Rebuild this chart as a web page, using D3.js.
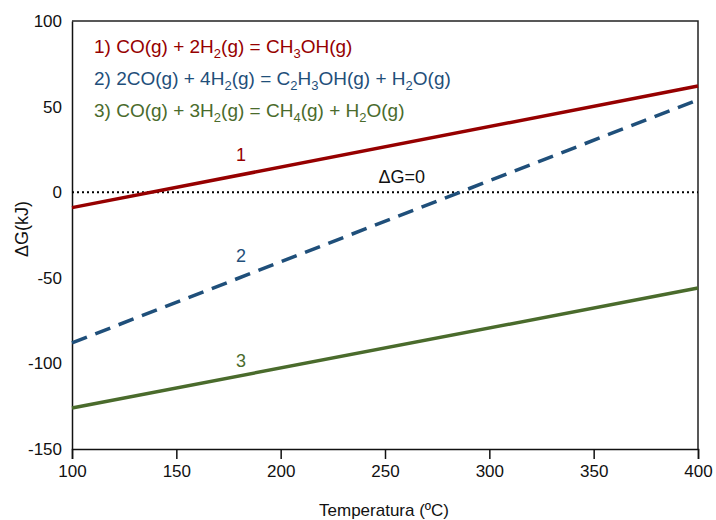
<!DOCTYPE html>
<html><head><meta charset="utf-8">
<script src="https://cdn.jsdelivr.net/npm/d3@7"></script>
<style>body{margin:0;background:#fff}svg{display:block;font-family:"Liberation Sans",Arial,sans-serif}</style>
</head><body><svg id="c" width="716" height="520"></svg>
<script>
const temps = [100, 400];
const series1 = [-9, 62];
const series2 = [-88, 54];
const series3 = [-126, -56];
const xTicks = [100, 150, 200, 250, 300, 350, 400];
const yTicks = [100, 50, 0, -50, -100, -150];
const legendTexts = [
  "1) CO(g) + 2H_2(g) = CH_3OH(g)",
  "2) 2CO(g) + 4H_2(g) = C_2H_3OH(g) + H_2O(g)",
  "3) CO(g) + 3H_2(g) = CH_4(g) + H_2O(g)"
];
const lineLabels = ["1", "2", "3"];
const labelAt = [[181, 18], [181, -41], [181, -102]];
const colors = ["#960000", "#1f4f7a", "#4a6b2c"];

const svg = d3.select("#c");
const m = {l:72, r:698, t:21, b:449};
const x = d3.scaleLinear().domain([100, 400]).range([m.l, m.r]);
const y = d3.scaleLinear().domain([-150, 100]).range([m.b, m.t]);
const fmt = d => String(d);

// frame
svg.append("path").attr("d", `M${m.l},${m.t}H${m.r}V${m.b}`).attr("fill","none").attr("stroke","#222").attr("stroke-width",1.5);

// x axis
const xa = svg.append("g").attr("transform", `translate(0,${m.b})`)
  .call(d3.axisBottom(x).tickValues(xTicks).tickSize(10).tickPadding(6).tickFormat(fmt));
xa.select(".domain").attr("stroke","#111").attr("stroke-width",1.5);
xa.selectAll(".tick line").attr("stroke","#111").attr("stroke-width",1.5);
xa.selectAll("text").attr("font-size",17).attr("fill","#111").attr("font-family","'Liberation Sans',Arial,sans-serif");

// y axis
const ya = svg.append("g").attr("transform", `translate(${m.l},0)`)
  .call(d3.axisLeft(y).tickValues(yTicks).tickSize(0).tickPadding(10).tickFormat(fmt));
ya.select(".domain").attr("stroke","#111").attr("stroke-width",1.5);
ya.selectAll("text").attr("font-size",17).attr("fill","#111").attr("font-family","'Liberation Sans',Arial,sans-serif");

// zero line
svg.append("line").attr("x1", x(100)).attr("x2", x(400)).attr("y1", y(0)).attr("y2", y(0))
  .attr("stroke","#000").attr("stroke-width",2).attr("stroke-dasharray","2,3");
svg.append("text").attr("x", x(258)).attr("y", y(0) - 9).attr("text-anchor","middle")
  .attr("font-size",18).attr("fill","#111").text("ΔG=0");

const line = d3.line().x((d,i)=>x(temps[i])).y(d=>y(d));
[series1, series2, series3].forEach((s,i)=>{
  svg.append("path").datum(s).attr("d", line).attr("fill","none")
    .attr("stroke", colors[i]).attr("stroke-width", 3.5)
    .attr("stroke-dasharray", i===1 ? "16,9" : null);
  svg.append("text").attr("x", x(labelAt[i][0])).attr("y", y(labelAt[i][1])).attr("text-anchor","middle")
    .attr("font-size",18).attr("fill", colors[i]).text(lineLabels[i]);
});

// legend
legendTexts.forEach((t,i)=>{
  const tx = svg.append("text").attr("x", 94).attr("y", 53 + i*32).attr("font-size",19).attr("fill", colors[i]);
  const parts = t.split(/(_\d)/).filter(p=>p.length);
  let sub = false;
  parts.forEach(p=>{
    if (p.startsWith("_")) {
      tx.append("tspan").attr("dy", 5).attr("font-size", 13).text(p.slice(1));
      sub = true;
    } else {
      tx.append("tspan").attr("dy", sub ? -5 : 0).text(p);
      sub = false;
    }
  });
});

// axis titles
svg.append("text").attr("x", (m.l+m.r)/2 - 1).attr("y", 516).attr("text-anchor","middle")
  .attr("font-size",17).attr("fill","#111").text("Temperatura (ºC)");
svg.append("text").attr("transform", `translate(28,229) rotate(-90)`).attr("text-anchor","middle")
  .attr("font-size",18).attr("fill","#111").text("ΔG(kJ)");
</script></body></html>
